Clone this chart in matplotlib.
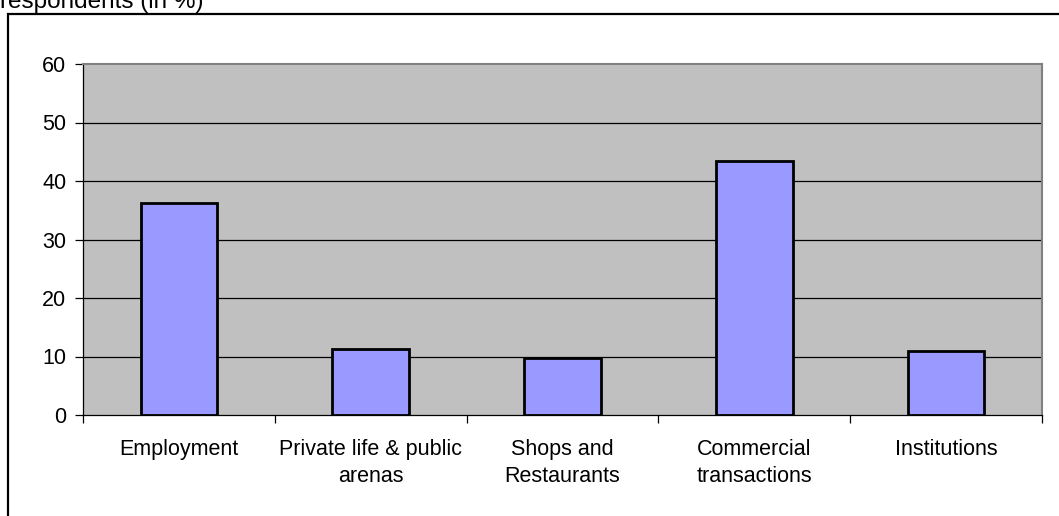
import matplotlib.pyplot as plt
from matplotlib.patches import Rectangle

# Share of respondents per domain (in %)
categories = ['Employment', 'Private life & public\narenas', 'Shops and\nRestaurants',
              'Commercial\ntransactions', 'Institutions']
values = [36.2, 11.3, 9.7, 43.5, 10.9]
yticks = [0, 10, 20, 30, 40, 50, 60]

plt.rcParams['font.family'] = ['Liberation Sans', 'DejaVu Sans']

fig = plt.figure(figsize=(10.59, 5.16), dpi=100)
W, H = 1059, 516

# outer chart frame (bottom runs past the image edge)
fig.patches.append(Rectangle((8 / W, -0.1), 1.2, 1 - 14 / H + 0.1, transform=fig.transFigure,
                             fill=False, edgecolor='black', linewidth=1.6))
fig.text(0 / W, 1 - 8 / H, 'respondents (in %)', fontsize=17.5, va='baseline', ha='left')

ax = fig.add_axes([83 / W, (H - 415) / H, 959 / W, 351 / H])
ax.set_facecolor('#c0c0c0')

x = range(len(categories))
ax.bar(x, values, width=0.40, color='#9999ff', edgecolor='black', linewidth=2, zorder=3)

ax.set_xlim(-0.5, len(categories) - 0.5)
ax.set_ylim(0, 60)
ax.set_yticks(yticks)
ax.set_yticklabels([str(v) for v in yticks], fontsize=15.5)
for v in yticks[1:-1]:
    ax.axhline(v, color='black', linewidth=0.9, zorder=1)

ax.set_xticks([i + 0.5 for i in range(-1, len(categories))])
ax.set_xticklabels([])
ax.set_xticks(list(x), minor=True)
ax.set_xticklabels(categories, minor=True, fontsize=15.5, ha='center', va='top',
                   linespacing=1.4)
ax.tick_params(axis='x', which='minor', length=0, pad=17)
ax.tick_params(axis='x', which='major', length=6, direction='out', width=0.9)
ax.tick_params(axis='y', length=6, direction='out', width=0.9, pad=6)

for s in ['top', 'right']:
    ax.spines[s].set_color('#808080')
    ax.spines[s].set_linewidth(1.5)
ax.spines['left'].set_color('black')
ax.spines['bottom'].set_color('black')
ax.spines['left'].set_linewidth(0.9)
ax.spines['bottom'].set_linewidth(0.9)

fig.savefig('out.png', dpi=100)
